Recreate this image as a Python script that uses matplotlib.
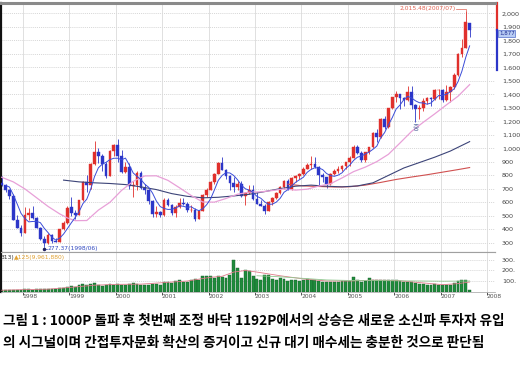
import matplotlib
matplotlib.use("Agg")
import matplotlib.pyplot as plt
from matplotlib.transforms import blended_transform_factory

# month index: 0 = Jan 1998 (first candle Jul 1997 = -6, last Aug 2007 = 115)
months = list(range(-6, 116))

opens = [745, 726, 695, 647, 470, 408,
         376, 506, 522, 482, 414, 328, 298, 358, 311, 310, 404, 448,
         565, 519, 506, 618, 752, 726, 884, 975, 943, 886, 799, 980,
         1028, 944, 828, 861, 725, 732, 821, 706, 689, 613, 514, 526,
         505, 615, 578, 523, 567, 596, 590, 541, 545, 479, 540, 658,
         694, 752, 814, 895, 843, 797, 743, 717, 734, 646, 667, 693,
         627, 591, 575, 535, 600, 633, 669, 712, 759, 697, 779, 797,
         810, 848, 880, 883, 862, 803, 785, 735, 809, 835, 845, 873,
         896, 932, 1011, 965, 911, 970, 1008, 1111, 1083, 1221, 1158, 1297,
         1379, 1399, 1371, 1359, 1419, 1318, 1295, 1297, 1352, 1371, 1364, 1432,
         1434, 1360, 1417, 1452, 1542, 1700, 1743, 1925]
highs = [792, 740, 700, 660, 510, 435,
         567, 560, 575, 490, 420, 350, 372, 365, 335, 405, 460, 570,
         640, 545, 620, 760, 800, 890, 1052, 1000, 960, 900, 990, 1030,
         1066, 990, 900, 890, 760, 830, 830, 740, 700, 620, 570, 540,
         630, 630, 590, 580, 630, 630, 600, 580, 560, 545, 660, 710,
         760, 820, 900, 937, 850, 800, 790, 760, 760, 680, 730, 730,
         680, 620, 590, 610, 640, 680, 720, 765, 770, 790, 800, 820,
         860, 895, 940, 936, 870, 820, 790, 815, 850, 870, 880, 900,
         940, 1022, 1024, 980, 975, 1010, 1120, 1145, 1225, 1240, 1300, 1380,
         1421, 1400, 1380, 1464, 1464, 1330, 1320, 1370, 1380, 1380, 1440, 1440,
         1440, 1470, 1460, 1560, 1705, 1810, 2015.48, 1930]
lows = [722, 680, 627, 470, 407, 351,
        376, 470, 480, 410, 325, 277.37, 290, 297, 305, 305, 398, 440,
        500, 480, 505, 610, 680, 700, 880, 890, 830, 780, 795, 940,
        900, 820, 820, 700, 640, 690, 700, 660, 590, 490, 490, 490,
        500, 570, 510, 490, 560, 580, 530, 530, 463, 475, 535, 640,
        690, 735, 810, 840, 770, 690, 680, 690, 640, 584, 660, 620,
        590, 570, 515, 535, 580, 625, 660, 700, 690, 695, 750, 770,
        800, 845, 850, 855, 720, 750, 710, 730, 800, 820, 830, 850,
        870, 930, 960, 900, 900, 960, 1000, 1050, 1080, 1140, 1150, 1290,
        1340, 1290, 1310, 1350, 1290, 1192, 1220, 1280, 1330, 1310, 1355, 1364,
        1345, 1350, 1345, 1440, 1535, 1680, 1740, 1825]
closes = [726, 695, 647, 470, 408, 376,
          506, 522, 482, 414, 328, 298, 358, 311, 310, 404, 448, 562,
          519, 506, 618, 752, 726, 884, 975, 943, 886, 799, 980, 1028,
          944, 828, 861, 725, 732, 821, 706, 689, 613, 514, 526, 505,
          615, 578, 523, 567, 596, 590, 541, 545, 479, 540, 658, 694,
          752, 814, 895, 843, 797, 743, 717, 734, 646, 667, 693, 627,
          591, 575, 535, 600, 633, 669, 712, 759, 697, 779, 797, 810,
          848, 880, 883, 862, 803, 785, 735, 809, 835, 845, 873, 896,
          932, 1011, 965, 911, 970, 1008, 1111, 1083, 1221, 1158, 1297, 1379,
          1399, 1371, 1359, 1419, 1318, 1295, 1297, 1352, 1371, 1364, 1432, 1434,
          1360, 1417, 1452, 1542, 1700, 1743, 1933, 1877]
volume = [10, 12, 10, 14, 15, 18,
          22, 20, 18, 20, 22, 25, 28, 24, 22, 30, 38, 45,
          55, 45, 60, 75, 60, 70, 80, 65, 55, 60, 70, 65,
          70, 65, 60, 70, 80, 75, 65, 60, 65, 75, 70, 65,
          95, 90, 85, 100, 110, 95, 90, 105, 120, 110, 150, 145,
          150, 125, 150, 135, 125, 160, 300, 225, 130, 205, 195, 150,
          120, 110, 160, 155, 120, 110, 125, 115, 100, 110, 105, 100,
          110, 115, 105, 110, 100, 95, 90, 95, 90, 95, 100, 100,
          100, 135, 110, 95, 100, 130, 110, 105, 110, 105, 105, 110,
          110, 100, 90, 95, 95, 85, 70, 70, 65, 65, 70, 65,
          60, 60, 65, 80, 100, 105, 105, 15]

# moving average lines
ma5_months = list(range(-5, 116))
ma5 = [725, 714, 657, 589, 519, 481, 456, 459, 460, 450,
       409, 376, 342, 321, 336, 366, 407, 449, 488, 531,
       591, 624, 697, 791, 856, 883, 897, 917, 927, 927,
       916, 928, 877, 818, 793, 769, 735, 712, 669, 610,
       569, 555, 548, 549, 558, 576, 571, 563, 568, 550,
       539, 553, 583, 625, 692, 763, 800, 820, 818, 799,
       767, 727, 701, 691, 673, 645, 631, 604, 586, 587,
       602, 630, 675, 694, 723, 749, 768, 786, 823, 844,
       857, 855, 843, 814, 799, 793, 802, 819, 852, 876,
       911, 935, 943, 958, 973, 993, 1017, 1079, 1116, 1174,
       1228, 1291, 1321, 1361, 1385, 1373, 1352, 1338, 1336, 1327,
       1336, 1363, 1391, 1392, 1401, 1419, 1441, 1494, 1571, 1674,
       1759]
ma20_months = [-6, -3, 0, 3, 6, 9, 11, 13, 16, 19, 22, 25, 28, 31, 34, 37, 40,
               43, 46, 49, 52, 55, 58, 61, 64, 67, 70, 73, 76, 79, 82, 85, 88,
               91, 94, 97, 100, 103, 106, 109, 112, 115]
ma20 = [786, 752, 700, 635, 570, 515, 485, 465, 466, 543, 601, 689, 756, 796,
        797, 763, 708, 651, 603, 602, 629, 661, 676, 678, 688, 700, 691, 698,
        721, 738, 781, 828, 861, 902, 956, 1040, 1126, 1193, 1256, 1322, 1386,
        1472]
ma60_months = [10, 14, 18, 22, 26, 30, 34, 38, 42, 46, 50, 54, 58, 62, 66, 70,
               74, 78, 82, 86, 90, 94, 98, 102, 106, 110, 115]
ma60 = [765, 752, 745, 740, 732, 715, 695, 665, 645, 634, 638, 648, 660, 680,
        702, 720, 728, 720, 715, 722, 745, 800, 855, 895, 935, 980, 1050]
ma120_months = [68, 72, 76, 80, 84, 88, 92, 96, 100, 104, 108, 112, 115]
ma120 = [735, 722, 718, 714, 716, 728, 748, 770, 788, 805, 824, 843, 858]

vma_a_months = [-6, 0, 6, 12, 18, 24, 30, 36, 42, 48, 51, 54, 57, 60, 66, 72,
                78, 84, 90, 96, 102, 108, 112, 115]
vma_a = [12, 18, 22, 40, 60, 68, 70, 85, 100, 135, 145, 185, 200, 185, 150,
         120, 100, 100, 108, 105, 85, 65, 75, 90]
vma_b_months = [60, 66, 72, 78, 84, 90, 96, 102, 108, 115]
vma_b = [150, 140, 125, 110, 105, 105, 102, 100, 98, 100]

years = list(range(1998, 2009))
price_ticks = list(range(300, 2001, 100))
vol_ticks = [100, 200, 300]
vol_labels = ["100.", "200.", "300."]

caption1 = "그림 1 : 1000P 돌파 후 첫번째 조정 바닥 1192P에서의 상승은 새로운 소신파 투자자 유입"
caption2 = "의 시그널이며 간접투자문화 확산의 증거이고 신규 대기 매수세는 충분한 것으로 판단됨"

RED = "#e0302c"
BLUE = "#2c36c8"
W, H = 520, 370

fig = plt.figure(figsize=(5.2, 3.7), dpi=100)
ax = fig.add_axes([1 / W, 1 - 252 / H, 494 / W, 249 / H])
axv = fig.add_axes([1 / W, 1 - 291.5 / H, 494 / W, 39.5 / H])

xs = [m + 0.5 for m in months]
ylo, yhi = 233, 2076
ax.set_xlim(-5.68, 122.06)
ax.set_ylim(ylo, yhi)

# grid
for p in price_ticks:
    ax.axhline(p, color="#c8c8c8", lw=0.5, ls=(0, (1.5, 1.5)), zorder=0)
for i in range(len(years)):
    ax.axvline(12 * i, color="#dadada", lw=0.6, zorder=0)

# candles
for x, o, h, l, c in zip(xs, opens, highs, lows, closes):
    col = RED if c >= o else BLUE
    ax.vlines(x, l, h, color=col, lw=0.6, zorder=2)
    ax.bar(x, max(abs(c - o), 3), bottom=min(o, c), width=0.7, color=col,
           edgecolor=col, lw=0.3, zorder=3)

# moving averages
ax.plot([m + 0.5 for m in ma120_months], ma120, color="#d05050", lw=0.8, zorder=4)
ax.plot([m + 0.5 for m in ma60_months], ma60, color="#3c4478", lw=0.8, zorder=4)
ax.plot([m + 0.5 for m in ma20_months], ma20, color="#e8a0d8", lw=0.9, zorder=4)
ax.plot([m + 0.5 for m in ma5_months], ma5, color="#3a4cd8", lw=0.7, zorder=4)

# annotations
ax.plot([114.5, 114.5, 112.0], [2015.48, 2032, 2032], color="#e06050", lw=0.5, zorder=5)
ax.text(111.8, 2032, "2,015.48(2007/07)", color="#e06050", fontsize=4.3,
        ha="right", va="center", zorder=5)
ax.plot([5.5, 5.5, 6.3], [277, 258, 258], color="#3048c0", lw=0.5, zorder=5)
ax.plot([5.5], [258], marker="o", ms=1.5, color="#202060", zorder=5)
ax.text(6.4, 258, "277.37(1998/06)", color="#3048c0", fontsize=4.3,
        ha="left", va="center", zorder=5)
ax.text(101.5, 1152, "중", color="#6878a8", fontsize=5, ha="center", va="center",
        family=["Noto Sans CJK KR", "DejaVu Sans"], zorder=5)

# axes styling
ax.set_xticks([])
ax.yaxis.tick_right()
ax.set_yticks(price_ticks)
ax.set_yticklabels([f"{p:,}" for p in price_ticks], fontsize=4.6, color="#444444")
ax.tick_params(axis="y", length=0, pad=5)
ax.spines["top"].set_color("#8a8a8a")
ax.spines["top"].set_linewidth(2.2)
ax.spines["left"].set_color("#111111")
ax.spines["left"].set_linewidth(1.6)
ax.spines["right"].set_visible(False)
ax.spines["bottom"].set_color("#a0a0a0")
ax.spines["bottom"].set_linewidth(0.8)

# current price marker on the right axis
tr = blended_transform_factory(fig.transFigure, ax.transData)
ax.plot([497 / W, 497 / W], [1877, yhi], color=RED, lw=1.6, transform=tr, clip_on=False)
ax.plot([497 / W, 497 / W], [1580, 1877], color=BLUE, lw=1.6, transform=tr, clip_on=False)
ax.text(499 / W, 1850, "1,877", transform=tr, fontsize=4.0, color="#1a2a90",
        va="center", ha="left",
        bbox=dict(boxstyle="square,pad=0.1", facecolor="#b8ccf4", edgecolor="#3050c0", lw=0.4))

# volume panel
axv.set_xlim(-5.68, 122.06)
axv.set_ylim(0, 376)
for v in vol_ticks:
    axv.axhline(v, color="#c8c8c8", lw=0.5, ls=(0, (1.5, 1.5)), zorder=0)
for i in range(len(years)):
    axv.axvline(12 * i, color="#dadada", lw=0.6, zorder=0)
axv.bar(xs, volume, width=0.75, color="#1f8c3c", edgecolor="#16602a", lw=0.3, zorder=2)
axv.plot([m + 0.5 for m in vma_a_months], vma_a, color="#e07a8a", lw=0.6, zorder=3)
axv.plot([m + 0.5 for m in vma_b_months], vma_b, color="#90c890", lw=0.6, zorder=3)

axv.yaxis.tick_right()
axv.set_yticks(vol_ticks)
axv.set_yticklabels(vol_labels, fontsize=4.6, color="#444444")
axv.tick_params(axis="y", length=0, pad=5)
axv.set_xticks([12 * i + 1.9 for i in range(len(years))])
axv.set_xticklabels([str(y) for y in years], fontsize=4.3, color="#555555")
axv.tick_params(axis="x", length=0, pad=2)
axv.set_xticks([12 * i for i in range(len(years))], minor=True)
axv.tick_params(axis="x", which="minor", length=2.5, width=0.6, color="#333333")
axv.spines["top"].set_color("#a0a0a0")
axv.spines["top"].set_linewidth(0.8)
axv.spines["left"].set_color("#111111")
axv.spines["left"].set_linewidth(1.6)
axv.spines["right"].set_visible(False)
axv.spines["bottom"].set_color("#b0b0b0")
axv.spines["bottom"].set_linewidth(0.6)

fig.text(1 / W, 1 - 257 / H, "313)", fontsize=4.3, color="#333333", va="center")
fig.text(14 / W, 1 - 257 / H, "▲125(9,961,880)", fontsize=4.3, color="#e0a030", va="center")

# caption
kr = ["Noto Sans CJK KR", "DejaVu Sans"]
fig.text(3 / W, 1 - 321 / H, caption1, fontsize=9.8, fontweight="bold",
         family=kr, va="center", ha="left")
fig.text(3 / W, 1 - 343 / H, caption2, fontsize=9.8, fontweight="bold",
         family=kr, va="center", ha="left")

fig.savefig("out.png", dpi=100, facecolor="white")
